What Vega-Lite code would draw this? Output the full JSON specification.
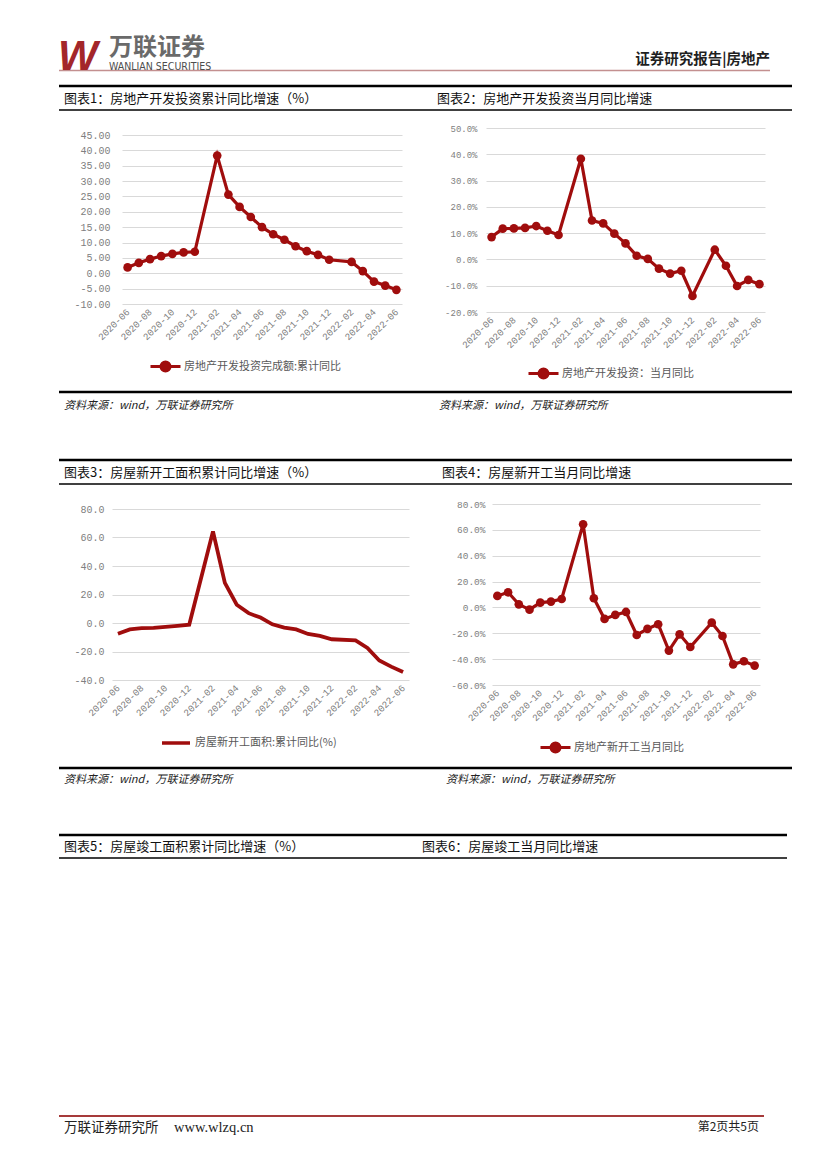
{
  "$schema": "https://vega.github.io/schema/vega-lite/v6.json",
  "padding": {"left": 57, "top": 0, "right": 0, "bottom": 0},
  "background": "white",
  "config": {"view": {"stroke": null}, "font": "Noto Sans CJK SC"},
  "bounds": "flush",
  "spacing": 0,
  "resolve": {"scale": {"color": "independent"}, "legend": {"color": "independent"}},
  "datasets": {
    "inv_cum": [
      {"month": "2020-06", "value": 1.9, "series": "房地产开发投资完成额:累计同比"},
      {"month": "2020-07", "value": 3.4, "series": "房地产开发投资完成额:累计同比"},
      {"month": "2020-08", "value": 4.6, "series": "房地产开发投资完成额:累计同比"},
      {"month": "2020-09", "value": 5.6, "series": "房地产开发投资完成额:累计同比"},
      {"month": "2020-10", "value": 6.3, "series": "房地产开发投资完成额:累计同比"},
      {"month": "2020-11", "value": 6.8, "series": "房地产开发投资完成额:累计同比"},
      {"month": "2020-12", "value": 7.0, "series": "房地产开发投资完成额:累计同比"},
      {"month": "2021-02", "value": 38.3, "series": "房地产开发投资完成额:累计同比"},
      {"month": "2021-03", "value": 25.6, "series": "房地产开发投资完成额:累计同比"},
      {"month": "2021-04", "value": 21.6, "series": "房地产开发投资完成额:累计同比"},
      {"month": "2021-05", "value": 18.3, "series": "房地产开发投资完成额:累计同比"},
      {"month": "2021-06", "value": 15.0, "series": "房地产开发投资完成额:累计同比"},
      {"month": "2021-07", "value": 12.7, "series": "房地产开发投资完成额:累计同比"},
      {"month": "2021-08", "value": 10.9, "series": "房地产开发投资完成额:累计同比"},
      {"month": "2021-09", "value": 8.8, "series": "房地产开发投资完成额:累计同比"},
      {"month": "2021-10", "value": 7.2, "series": "房地产开发投资完成额:累计同比"},
      {"month": "2021-11", "value": 6.0, "series": "房地产开发投资完成额:累计同比"},
      {"month": "2021-12", "value": 4.4, "series": "房地产开发投资完成额:累计同比"},
      {"month": "2022-02", "value": 3.7, "series": "房地产开发投资完成额:累计同比"},
      {"month": "2022-03", "value": 0.7, "series": "房地产开发投资完成额:累计同比"},
      {"month": "2022-04", "value": -2.7, "series": "房地产开发投资完成额:累计同比"},
      {"month": "2022-05", "value": -4.0, "series": "房地产开发投资完成额:累计同比"},
      {"month": "2022-06", "value": -5.4, "series": "房地产开发投资完成额:累计同比"}
    ],
    "inv_month": [
      {"month": "2020-06", "value": 8.5, "series": "房地产开发投资：当月同比"},
      {"month": "2020-07", "value": 11.7, "series": "房地产开发投资：当月同比"},
      {"month": "2020-08", "value": 11.8, "series": "房地产开发投资：当月同比"},
      {"month": "2020-09", "value": 12.0, "series": "房地产开发投资：当月同比"},
      {"month": "2020-10", "value": 12.7, "series": "房地产开发投资：当月同比"},
      {"month": "2020-11", "value": 10.9, "series": "房地产开发投资：当月同比"},
      {"month": "2020-12", "value": 9.3, "series": "房地产开发投资：当月同比"},
      {"month": "2021-02", "value": 38.3, "series": "房地产开发投资：当月同比"},
      {"month": "2021-03", "value": 14.8, "series": "房地产开发投资：当月同比"},
      {"month": "2021-04", "value": 13.7, "series": "房地产开发投资：当月同比"},
      {"month": "2021-05", "value": 9.8, "series": "房地产开发投资：当月同比"},
      {"month": "2021-06", "value": 6.1, "series": "房地产开发投资：当月同比"},
      {"month": "2021-07", "value": 1.4, "series": "房地产开发投资：当月同比"},
      {"month": "2021-08", "value": 0.2, "series": "房地产开发投资：当月同比"},
      {"month": "2021-09", "value": -3.5, "series": "房地产开发投资：当月同比"},
      {"month": "2021-10", "value": -5.4, "series": "房地产开发投资：当月同比"},
      {"month": "2021-11", "value": -4.3, "series": "房地产开发投资：当月同比"},
      {"month": "2021-12", "value": -13.9, "series": "房地产开发投资：当月同比"},
      {"month": "2022-02", "value": 3.7, "series": "房地产开发投资：当月同比"},
      {"month": "2022-03", "value": -2.4, "series": "房地产开发投资：当月同比"},
      {"month": "2022-04", "value": -10.1, "series": "房地产开发投资：当月同比"},
      {"month": "2022-05", "value": -7.8, "series": "房地产开发投资：当月同比"},
      {"month": "2022-06", "value": -9.4, "series": "房地产开发投资：当月同比"}
    ],
    "start_cum": [
      {"month": "2020-06", "value": -7.6, "series": "房屋新开工面积:累计同比(%)"},
      {"month": "2020-07", "value": -4.5, "series": "房屋新开工面积:累计同比(%)"},
      {"month": "2020-08", "value": -3.6, "series": "房屋新开工面积:累计同比(%)"},
      {"month": "2020-09", "value": -3.4, "series": "房屋新开工面积:累计同比(%)"},
      {"month": "2020-10", "value": -2.7, "series": "房屋新开工面积:累计同比(%)"},
      {"month": "2020-11", "value": -2.0, "series": "房屋新开工面积:累计同比(%)"},
      {"month": "2020-12", "value": -1.2, "series": "房屋新开工面积:累计同比(%)"},
      {"month": "2021-02", "value": 64.3, "series": "房屋新开工面积:累计同比(%)"},
      {"month": "2021-03", "value": 28.2, "series": "房屋新开工面积:累计同比(%)"},
      {"month": "2021-04", "value": 12.8, "series": "房屋新开工面积:累计同比(%)"},
      {"month": "2021-05", "value": 6.9, "series": "房屋新开工面积:累计同比(%)"},
      {"month": "2021-06", "value": 3.8, "series": "房屋新开工面积:累计同比(%)"},
      {"month": "2021-07", "value": -0.9, "series": "房屋新开工面积:累计同比(%)"},
      {"month": "2021-08", "value": -3.2, "series": "房屋新开工面积:累计同比(%)"},
      {"month": "2021-09", "value": -4.5, "series": "房屋新开工面积:累计同比(%)"},
      {"month": "2021-10", "value": -7.7, "series": "房屋新开工面积:累计同比(%)"},
      {"month": "2021-11", "value": -9.1, "series": "房屋新开工面积:累计同比(%)"},
      {"month": "2021-12", "value": -11.4, "series": "房屋新开工面积:累计同比(%)"},
      {"month": "2022-02", "value": -12.2, "series": "房屋新开工面积:累计同比(%)"},
      {"month": "2022-03", "value": -17.5, "series": "房屋新开工面积:累计同比(%)"},
      {"month": "2022-04", "value": -26.3, "series": "房屋新开工面积:累计同比(%)"},
      {"month": "2022-05", "value": -30.6, "series": "房屋新开工面积:累计同比(%)"},
      {"month": "2022-06", "value": -34.4, "series": "房屋新开工面积:累计同比(%)"}
    ],
    "start_month": [
      {"month": "2020-06", "value": 8.9, "series": "房地产新开工当月同比"},
      {"month": "2020-07", "value": 11.7, "series": "房地产新开工当月同比"},
      {"month": "2020-08", "value": 2.4, "series": "房地产新开工当月同比"},
      {"month": "2020-09", "value": -1.7, "series": "房地产新开工当月同比"},
      {"month": "2020-10", "value": 3.7, "series": "房地产新开工当月同比"},
      {"month": "2020-11", "value": 4.5, "series": "房地产新开工当月同比"},
      {"month": "2020-12", "value": 6.5, "series": "房地产新开工当月同比"},
      {"month": "2021-02", "value": 64.3, "series": "房地产新开工当月同比"},
      {"month": "2021-03", "value": 7.1, "series": "房地产新开工当月同比"},
      {"month": "2021-04", "value": -8.9, "series": "房地产新开工当月同比"},
      {"month": "2021-05", "value": -5.8, "series": "房地产新开工当月同比"},
      {"month": "2021-06", "value": -3.5, "series": "房地产新开工当月同比"},
      {"month": "2021-07", "value": -21.3, "series": "房地产新开工当月同比"},
      {"month": "2021-08", "value": -16.6, "series": "房地产新开工当月同比"},
      {"month": "2021-09", "value": -13.0, "series": "房地产新开工当月同比"},
      {"month": "2021-10", "value": -33.4, "series": "房地产新开工当月同比"},
      {"month": "2021-11", "value": -20.8, "series": "房地产新开工当月同比"},
      {"month": "2021-12", "value": -30.6, "series": "房地产新开工当月同比"},
      {"month": "2022-02", "value": -11.8, "series": "房地产新开工当月同比"},
      {"month": "2022-03", "value": -22.1, "series": "房地产新开工当月同比"},
      {"month": "2022-04", "value": -44.0, "series": "房地产新开工当月同比"},
      {"month": "2022-05", "value": -41.6, "series": "房地产新开工当月同比"},
      {"month": "2022-06", "value": -45.0, "series": "房地产新开工当月同比"}
    ]
  },
  "vconcat": [
    {
      "width": 711, "height": 86,
      "layer": [
        {"data": {"values": [{}]}, "mark": {"type": "rule", "color": "#c39090", "strokeWidth": 1.5},
         "encoding": {"y": {"datum": 70.5, "type": "quantitative", "scale": {"domain": [0, 86], "nice": false, "zero": false, "reverse": true}, "axis": null}}},
        {"data": {"values": [{"t": "W"}]}, "mark": {"type": "text", "font": "Liberation Sans", "fontSize": 42, "fontWeight": "bold", "fontStyle": "italic", "color": "#a3262a", "align": "left", "baseline": "alphabetic"},
         "encoding": {"text": {"field": "t", "type": "nominal"},
           "x": {"datum": -1, "type": "quantitative", "scale": {"domain": [0, 711], "nice": false, "zero": false}, "axis": null},
           "y": {"datum": 70, "type": "quantitative", "scale": {"domain": [0, 86], "nice": false, "zero": false, "reverse": true}, "axis": null}}},
        {"data": {"values": [{"t": "万联证券"}]}, "mark": {"type": "text", "fontSize": 24, "fontWeight": "bold", "color": "#6a6a6a", "align": "left", "baseline": "middle"},
         "encoding": {"text": {"field": "t", "type": "nominal"},
           "x": {"datum": 50, "type": "quantitative", "scale": {"domain": [0, 711], "nice": false, "zero": false}, "axis": null},
           "y": {"datum": 47.5, "type": "quantitative", "scale": {"domain": [0, 86], "nice": false, "zero": false, "reverse": true}, "axis": null}}},
        {"data": {"values": [{"t": "WANLIAN SECURITIES"}]}, "mark": {"type": "text", "font": "DejaVu Sans Condensed, Liberation Sans", "fontSize": 10.5, "color": "#4d4d4d", "align": "left", "baseline": "middle"},
         "encoding": {"text": {"field": "t", "type": "nominal"},
           "x": {"datum": 50, "type": "quantitative", "scale": {"domain": [0, 711], "nice": false, "zero": false}, "axis": null},
           "y": {"datum": 66.5, "type": "quantitative", "scale": {"domain": [0, 86], "nice": false, "zero": false, "reverse": true}, "axis": null}}},
        {"data": {"values": [{"t": "证券研究报告|房地产"}]}, "mark": {"type": "text", "fontSize": 14.5, "fontWeight": "bold", "color": "#1f1f1f", "align": "right", "baseline": "middle"},
         "encoding": {"text": {"field": "t", "type": "nominal"},
           "x": {"datum": 711, "type": "quantitative", "scale": {"domain": [0, 711], "nice": false, "zero": false}, "axis": null},
           "y": {"datum": 60, "type": "quantitative", "scale": {"domain": [0, 86], "nice": false, "zero": false, "reverse": true}, "axis": null}}}
      ]
    },
    {
      "width": 733, "height": 42,
      "layer": [
        {"data": {"values": [{}]}, "mark": {"type": "rule", "color": "#000000", "strokeWidth": 2.5},
         "encoding": {"y": {"datum": 0, "type": "quantitative", "scale": {"domain": [0, 42], "nice": false, "zero": false, "reverse": true}, "axis": null}}},
        {"data": {"values": [{}]}, "mark": {"type": "rule", "color": "#000000", "strokeWidth": 1.5},
         "encoding": {"y": {"datum": 24, "type": "quantitative", "scale": {"domain": [0, 42], "nice": false, "zero": false, "reverse": true}, "axis": null}}},
        {"data": {"values": [{"t": "图表1：房地产开发投资累计同比增速（%）"}]}, "mark": {"type": "text", "fontSize": 13, "color": "#111111", "align": "left", "baseline": "middle"},
         "encoding": {"text": {"field": "t", "type": "nominal"},
           "x": {"datum": 5, "type": "quantitative", "scale": {"domain": [0, 733], "nice": false, "zero": false}, "axis": null},
           "y": {"datum": 12.5, "type": "quantitative", "scale": {"domain": [0, 42], "nice": false, "zero": false, "reverse": true}, "axis": null}}},
        {"data": {"values": [{"t": "图表2：房地产开发投资当月同比增速"}]}, "mark": {"type": "text", "fontSize": 13, "color": "#111111", "align": "left", "baseline": "middle"},
         "encoding": {"text": {"field": "t", "type": "nominal"},
           "x": {"datum": 378, "type": "quantitative", "scale": {"domain": [0, 733], "nice": false, "zero": false}, "axis": null},
           "y": {"datum": 12.5, "type": "quantitative", "scale": {"domain": [0, 42], "nice": false, "zero": false, "reverse": true}, "axis": null}}}
      ]
    },
    {
      "width": 733, "height": 184,
      "resolve": {"scale": {"x": "independent", "y": "independent", "color": "independent"}, "axis": {"x": "independent", "y": "independent"}, "legend": {"color": "independent"}},
      "layer": [
        {
          "data": {"name": "inv_cum"},
          "encoding": {
            "x": {"field": "month", "type": "ordinal",
              "scale": {"type": "point", "padding": 0.5, "range": [63, 343], "domain": ["2020-06","2020-07","2020-08","2020-09","2020-10","2020-11","2020-12","2021-01","2021-02","2021-03","2021-04","2021-05","2021-06","2021-07","2021-08","2021-09","2021-10","2021-11","2021-12","2022-01","2022-02","2022-03","2022-04","2022-05","2022-06"]},
              "axis": {"orient": "bottom", "offset": -8, "values": ["2020-06","2020-08","2020-10","2020-12","2021-02","2021-04","2021-06","2021-08","2021-10","2021-12","2022-02","2022-04","2022-06"], "labelAngle": -45, "labelAlign": "right", "labelBaseline": "middle", "labelPadding": 6, "domain": false, "ticks": false, "grid": false, "labelColor": "#808080", "labelFont": "Liberation Mono", "labelFontSize": 9.5, "title": null, "labelOverlap": false}},
            "y": {"field": "value", "type": "quantitative",
              "scale": {"domain": [-10, 45], "range": [176, 7], "nice": false, "zero": false},
              "axis": {"orient": "left", "offset": -63, "values": [-10,-5,0,5,10,15,20,25,30,35,40,45], "labelExpr": "replace(format(datum.value, '.2f'), '−', '-')", "domain": false, "ticks": false, "grid": true, "gridColor": "#d9d9d9", "gridWidth": 1, "labelColor": "#808080", "labelFont": "Liberation Mono", "labelFontSize": 10, "labelPadding": 12, "title": null}},
            "color": {"field": "series", "type": "nominal", "scale": {"range": ["#a00d0d"]},
              "legend": {"orient": "none", "legendX": 90, "legendY": 222, "title": null, "padding": 0, "symbolType": "M-1,0L1,0M0.3,0A0.3,0.3,0,1,1,-0.3,0A0.3,0.3,0,1,1,0.3,0Z", "symbolSize": 900, "symbolStrokeWidth": 3, "symbolStrokeColor": "#a00d0d", "symbolFillColor": "#a00d0d", "labelFont": "Noto Sans CJK SC", "labelFontSize": 11, "labelColor": "#595959", "labelOffset": 2, "labelLimit": 400}}
          },
          "layer": [
            {"mark": {"type": "line", "strokeWidth": 3.2}},
            {"mark": {"type": "point", "filled": true, "size": 75, "opacity": 1}}
          ]
        },
        {
          "data": {"name": "inv_month"},
          "encoding": {
            "x": {"field": "month", "type": "ordinal",
              "scale": {"type": "point", "padding": 0.5, "range": [427, 706], "domain": ["2020-06","2020-07","2020-08","2020-09","2020-10","2020-11","2020-12","2021-01","2021-02","2021-03","2021-04","2021-05","2021-06","2021-07","2021-08","2021-09","2021-10","2021-11","2021-12","2022-01","2022-02","2022-03","2022-04","2022-05","2022-06"]},
              "axis": {"orient": "bottom", "offset": 0, "values": ["2020-06","2020-08","2020-10","2020-12","2021-02","2021-04","2021-06","2021-08","2021-10","2021-12","2022-02","2022-04","2022-06"], "labelAngle": -45, "labelAlign": "right", "labelBaseline": "middle", "labelPadding": 6, "domain": false, "ticks": false, "grid": false, "labelColor": "#808080", "labelFont": "Liberation Mono", "labelFontSize": 9.5, "title": null, "labelOverlap": false}},
            "y": {"field": "value", "type": "quantitative",
              "scale": {"domain": [-20, 50], "range": [184, 0], "nice": false, "zero": false},
              "axis": {"orient": "left", "offset": -427, "values": [-20,-10,0,10,20,30,40,50], "labelExpr": "replace(format(datum.value, '.1f'), '−', '-') + '%'", "domain": false, "ticks": false, "grid": true, "gridColor": "#d9d9d9", "gridWidth": 1, "labelColor": "#808080", "labelFont": "Liberation Mono", "labelFontSize": 9, "labelPadding": 9, "title": null}},
            "color": {"field": "series", "type": "nominal", "scale": {"range": ["#a00d0d"]},
              "legend": {"orient": "none", "legendX": 468, "legendY": 229, "title": null, "padding": 0, "symbolType": "M-1,0L1,0M0.3,0A0.3,0.3,0,1,1,-0.3,0A0.3,0.3,0,1,1,0.3,0Z", "symbolSize": 900, "symbolStrokeWidth": 3, "symbolStrokeColor": "#a00d0d", "symbolFillColor": "#a00d0d", "labelFont": "Noto Sans CJK SC", "labelFontSize": 11, "labelColor": "#595959", "labelOffset": 2, "labelLimit": 400}}
          },
          "layer": [
            {"mark": {"type": "line", "strokeWidth": 3.2}},
            {"mark": {"type": "point", "filled": true, "size": 75, "opacity": 1}}
          ]
        }
      ]
    },
    {
      "width": 733, "height": 148,
      "layer": [
        {"data": {"values": [{}]}, "mark": {"type": "rule", "color": "#000000", "strokeWidth": 2.5},
         "encoding": {"y": {"datum": 80, "type": "quantitative", "scale": {"domain": [0, 148], "nice": false, "zero": false, "reverse": true}, "axis": null}}},
        {"data": {"values": [{"t": "资料来源：wind，万联证券研究所"}]}, "mark": {"type": "text", "fontSize": 11, "fontStyle": "italic", "color": "#222222", "align": "left", "baseline": "middle"},
         "encoding": {"text": {"field": "t", "type": "nominal"},
           "x": {"datum": 5, "type": "quantitative", "scale": {"domain": [0, 733], "nice": false, "zero": false}, "axis": null},
           "y": {"datum": 94, "type": "quantitative", "scale": {"domain": [0, 148], "nice": false, "zero": false, "reverse": true}, "axis": null}}},
        {"data": {"values": [{"t": "资料来源：wind，万联证券研究所"}]}, "mark": {"type": "text", "fontSize": 11, "fontStyle": "italic", "color": "#222222", "align": "left", "baseline": "middle"},
         "encoding": {"text": {"field": "t", "type": "nominal"},
           "x": {"datum": 380, "type": "quantitative", "scale": {"domain": [0, 733], "nice": false, "zero": false}, "axis": null},
           "y": {"datum": 94, "type": "quantitative", "scale": {"domain": [0, 148], "nice": false, "zero": false, "reverse": true}, "axis": null}}}
      ]
    },
    {
      "width": 733, "height": 44,
      "layer": [
        {"data": {"values": [{}]}, "mark": {"type": "rule", "color": "#000000", "strokeWidth": 2.5},
         "encoding": {"y": {"datum": 0, "type": "quantitative", "scale": {"domain": [0, 44], "nice": false, "zero": false, "reverse": true}, "axis": null}}},
        {"data": {"values": [{}]}, "mark": {"type": "rule", "color": "#000000", "strokeWidth": 1.5},
         "encoding": {"y": {"datum": 24, "type": "quantitative", "scale": {"domain": [0, 44], "nice": false, "zero": false, "reverse": true}, "axis": null}}},
        {"data": {"values": [{"t": "图表3：房屋新开工面积累计同比增速（%）"}]}, "mark": {"type": "text", "fontSize": 13, "color": "#111111", "align": "left", "baseline": "middle"},
         "encoding": {"text": {"field": "t", "type": "nominal"},
           "x": {"datum": 5, "type": "quantitative", "scale": {"domain": [0, 733], "nice": false, "zero": false}, "axis": null},
           "y": {"datum": 12.5, "type": "quantitative", "scale": {"domain": [0, 44], "nice": false, "zero": false, "reverse": true}, "axis": null}}},
        {"data": {"values": [{"t": "图表4：房屋新开工当月同比增速"}]}, "mark": {"type": "text", "fontSize": 13, "color": "#111111", "align": "left", "baseline": "middle"},
         "encoding": {"text": {"field": "t", "type": "nominal"},
           "x": {"datum": 383, "type": "quantitative", "scale": {"domain": [0, 733], "nice": false, "zero": false}, "axis": null},
           "y": {"datum": 12.5, "type": "quantitative", "scale": {"domain": [0, 44], "nice": false, "zero": false, "reverse": true}, "axis": null}}}
      ]
    },
    {
      "width": 733, "height": 181,
      "resolve": {"scale": {"x": "independent", "y": "independent", "color": "independent"}, "axis": {"x": "independent", "y": "independent"}, "legend": {"color": "independent"}},
      "layer": [
        {
          "data": {"name": "start_cum"},
          "encoding": {
            "x": {"field": "month", "type": "ordinal",
              "scale": {"type": "point", "padding": 0.5, "range": [53, 350], "domain": ["2020-06","2020-07","2020-08","2020-09","2020-10","2020-11","2020-12","2021-01","2021-02","2021-03","2021-04","2021-05","2021-06","2021-07","2021-08","2021-09","2021-10","2021-11","2021-12","2022-01","2022-02","2022-03","2022-04","2022-05","2022-06"]},
              "axis": {"orient": "bottom", "offset": -5, "values": ["2020-06","2020-08","2020-10","2020-12","2021-02","2021-04","2021-06","2021-08","2021-10","2021-12","2022-02","2022-04","2022-06"], "labelAngle": -45, "labelAlign": "right", "labelBaseline": "middle", "labelPadding": 6, "domain": false, "ticks": false, "grid": false, "labelColor": "#808080", "labelFont": "Liberation Mono", "labelFontSize": 9.5, "title": null, "labelOverlap": false}},
            "y": {"field": "value", "type": "quantitative",
              "scale": {"domain": [-40, 80], "range": [176, 5], "nice": false, "zero": false},
              "axis": {"orient": "left", "offset": -53, "values": [-40,-20,0,20,40,60,80], "labelExpr": "replace(format(datum.value, '.1f'), '−', '-')", "domain": false, "ticks": false, "grid": true, "gridColor": "#d9d9d9", "gridWidth": 1, "labelColor": "#808080", "labelFont": "Liberation Mono", "labelFontSize": 10, "labelPadding": 8, "title": null}},
            "color": {"field": "series", "type": "nominal", "scale": {"range": ["#a00d0d"]},
              "legend": {"orient": "none", "legendX": 101, "legendY": 223, "title": null, "padding": 0, "symbolType": "M-1,0L1,0", "symbolSize": 784, "symbolStrokeWidth": 3.5, "symbolStrokeColor": "#a00d0d", "labelFont": "Noto Sans CJK SC", "labelFontSize": 11, "labelColor": "#595959", "labelOffset": 3, "labelLimit": 400}}
          },
          "mark": {"type": "line", "strokeWidth": 3.8}
        },
        {
          "data": {"name": "start_month"},
          "encoding": {
            "x": {"field": "month", "type": "ordinal",
              "scale": {"type": "point", "padding": 0.5, "range": [433, 701], "domain": ["2020-06","2020-07","2020-08","2020-09","2020-10","2020-11","2020-12","2021-01","2021-02","2021-03","2021-04","2021-05","2021-06","2021-07","2021-08","2021-09","2021-10","2021-11","2021-12","2022-01","2022-02","2022-03","2022-04","2022-05","2022-06"]},
              "axis": {"orient": "bottom", "offset": 0, "values": ["2020-06","2020-08","2020-10","2020-12","2021-02","2021-04","2021-06","2021-08","2021-10","2021-12","2022-02","2022-04","2022-06"], "labelAngle": -45, "labelAlign": "right", "labelBaseline": "middle", "labelPadding": 6, "domain": false, "ticks": false, "grid": false, "labelColor": "#808080", "labelFont": "Liberation Mono", "labelFontSize": 9.5, "title": null, "labelOverlap": false}},
            "y": {"field": "value", "type": "quantitative",
              "scale": {"domain": [-60, 80], "range": [181, 0], "nice": false, "zero": false},
              "axis": {"orient": "left", "offset": -433, "values": [-60,-40,-20,0,20,40,60,80], "labelExpr": "replace(format(datum.value, '.1f'), '−', '-') + '%'", "domain": false, "ticks": false, "grid": true, "gridColor": "#d9d9d9", "gridWidth": 1, "labelColor": "#808080", "labelFont": "Liberation Mono", "labelFontSize": 9.5, "labelPadding": 7, "title": null}},
            "color": {"field": "series", "type": "nominal", "scale": {"range": ["#a00d0d"]},
              "legend": {"orient": "none", "legendX": 480, "legendY": 227, "title": null, "padding": 0, "symbolType": "M-1,0L1,0M0.3,0A0.3,0.3,0,1,1,-0.3,0A0.3,0.3,0,1,1,0.3,0Z", "symbolSize": 900, "symbolStrokeWidth": 3, "symbolStrokeColor": "#a00d0d", "symbolFillColor": "#a00d0d", "labelFont": "Noto Sans CJK SC", "labelFontSize": 11, "labelColor": "#595959", "labelOffset": 2, "labelLimit": 400}}
          },
          "layer": [
            {"mark": {"type": "line", "strokeWidth": 3.2}},
            {"mark": {"type": "point", "filled": true, "size": 75, "opacity": 1}}
          ]
        }
      ]
    },
    {
      "width": 733, "height": 150,
      "layer": [
        {"data": {"values": [{}]}, "mark": {"type": "rule", "color": "#000000", "strokeWidth": 2.5},
         "encoding": {"y": {"datum": 83, "type": "quantitative", "scale": {"domain": [0, 150], "nice": false, "zero": false, "reverse": true}, "axis": null}}},
        {"data": {"values": [{"t": "资料来源：wind，万联证券研究所"}]}, "mark": {"type": "text", "fontSize": 11, "fontStyle": "italic", "color": "#222222", "align": "left", "baseline": "middle"},
         "encoding": {"text": {"field": "t", "type": "nominal"},
           "x": {"datum": 5, "type": "quantitative", "scale": {"domain": [0, 733], "nice": false, "zero": false}, "axis": null},
           "y": {"datum": 95, "type": "quantitative", "scale": {"domain": [0, 150], "nice": false, "zero": false, "reverse": true}, "axis": null}}},
        {"data": {"values": [{"t": "资料来源：wind，万联证券研究所"}]}, "mark": {"type": "text", "fontSize": 11, "fontStyle": "italic", "color": "#222222", "align": "left", "baseline": "middle"},
         "encoding": {"text": {"field": "t", "type": "nominal"},
           "x": {"datum": 387, "type": "quantitative", "scale": {"domain": [0, 733], "nice": false, "zero": false}, "axis": null},
           "y": {"datum": 95, "type": "quantitative", "scale": {"domain": [0, 150], "nice": false, "zero": false, "reverse": true}, "axis": null}}}
      ]
    },
    {
      "width": 728, "height": 281,
      "layer": [
        {"data": {"values": [{}]}, "mark": {"type": "rule", "color": "#000000", "strokeWidth": 2.5},
         "encoding": {"y": {"datum": 0, "type": "quantitative", "scale": {"domain": [0, 281], "nice": false, "zero": false, "reverse": true}, "axis": null}}},
        {"data": {"values": [{}]}, "mark": {"type": "rule", "color": "#000000", "strokeWidth": 1.5},
         "encoding": {"y": {"datum": 23, "type": "quantitative", "scale": {"domain": [0, 281], "nice": false, "zero": false, "reverse": true}, "axis": null}}},
        {"data": {"values": [{"t": "图表5：房屋竣工面积累计同比增速（%）"}]}, "mark": {"type": "text", "fontSize": 13, "color": "#111111", "align": "left", "baseline": "middle"},
         "encoding": {"text": {"field": "t", "type": "nominal"},
           "x": {"datum": 5, "type": "quantitative", "scale": {"domain": [0, 728], "nice": false, "zero": false}, "axis": null},
           "y": {"datum": 11.5, "type": "quantitative", "scale": {"domain": [0, 281], "nice": false, "zero": false, "reverse": true}, "axis": null}}},
        {"data": {"values": [{"t": "图表6：房屋竣工当月同比增速"}]}, "mark": {"type": "text", "fontSize": 13, "color": "#111111", "align": "left", "baseline": "middle"},
         "encoding": {"text": {"field": "t", "type": "nominal"},
           "x": {"datum": 363, "type": "quantitative", "scale": {"domain": [0, 728], "nice": false, "zero": false}, "axis": null},
           "y": {"datum": 11.5, "type": "quantitative", "scale": {"domain": [0, 281], "nice": false, "zero": false, "reverse": true}, "axis": null}}}
      ]
    },
    {
      "width": 705, "height": 53,
      "layer": [
        {"data": {"values": [{}]}, "mark": {"type": "rule", "color": "#a63a3a", "strokeWidth": 2},
         "encoding": {"y": {"datum": 0, "type": "quantitative", "scale": {"domain": [0, 53], "nice": false, "zero": false, "reverse": true}, "axis": null}}},
        {"data": {"values": [{"t": "万联证券研究所"}]}, "mark": {"type": "text", "fontSize": 13.5, "color": "#222222", "align": "left", "baseline": "middle"},
         "encoding": {"text": {"field": "t", "type": "nominal"},
           "x": {"datum": 5, "type": "quantitative", "scale": {"domain": [0, 705], "nice": false, "zero": false}, "axis": null},
           "y": {"datum": 12, "type": "quantitative", "scale": {"domain": [0, 53], "nice": false, "zero": false, "reverse": true}, "axis": null}}},
        {"data": {"values": [{"t": "www.wlzq.cn"}]}, "mark": {"type": "text", "font": "Liberation Serif", "fontSize": 14.5, "color": "#222222", "align": "left", "baseline": "middle"},
         "encoding": {"text": {"field": "t", "type": "nominal"},
           "x": {"datum": 115, "type": "quantitative", "scale": {"domain": [0, 705], "nice": false, "zero": false}, "axis": null},
           "y": {"datum": 12, "type": "quantitative", "scale": {"domain": [0, 53], "nice": false, "zero": false, "reverse": true}, "axis": null}}},
        {"data": {"values": [{"t": "第2页共5页"}]}, "mark": {"type": "text", "fontSize": 12, "color": "#222222", "align": "right", "baseline": "middle"},
         "encoding": {"text": {"field": "t", "type": "nominal"},
           "x": {"datum": 700, "type": "quantitative", "scale": {"domain": [0, 705], "nice": false, "zero": false}, "axis": null},
           "y": {"datum": 11, "type": "quantitative", "scale": {"domain": [0, 53], "nice": false, "zero": false, "reverse": true}, "axis": null}}}
      ]
    }
  ]
}
